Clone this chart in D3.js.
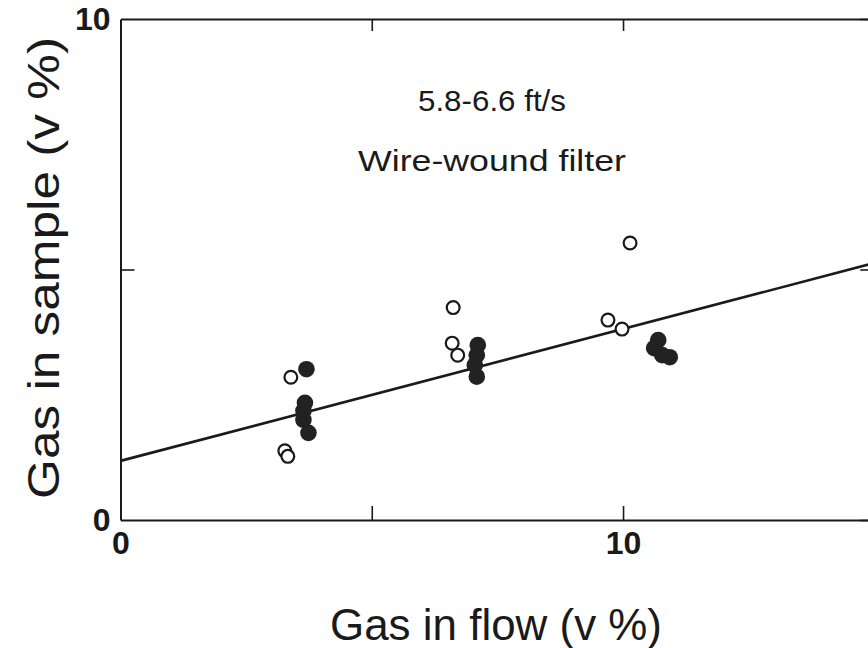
<!DOCTYPE html>
<html>
<head>
<meta charset="utf-8">
<script src="https://cdn.jsdelivr.net/npm/d3@7"></script>
<style>
  body { margin: 0; background: #fff; }
  text { font-family: "Liberation Sans", Arial, sans-serif; fill: #1a1a1a; }
</style>
</head>
<body>
<div id="chart"></div>
<script>
// open circles (one set of samples)
let openX = [3.39, 3.27, 3.33, 6.62, 6.60, 6.71, 9.70, 9.98, 10.14];
let openY = [2.85, 1.38, 1.27, 4.24, 3.53, 3.29, 3.99, 3.81, 5.53];
// filled circles
let filledX = [3.70, 3.67, 3.64, 3.64, 3.74, 7.11, 7.09, 7.05, 7.09, 10.70, 10.62, 10.78, 10.93];
let filledY = [3.01, 2.34, 2.18, 2.00, 1.74, 3.49, 3.29, 3.09, 2.86, 3.59, 3.43, 3.29, 3.25];
// fitted line end points
let fitX = [0, 15];
let fitY = [1.18, 5.13];

let xTicks = [0, 5, 10, 15];
let yTicks = [0, 5, 10];
let xLabelled = [0, 10];
let yLabelled = [0, 10];

let width = 868;
let height = 648;

let x = d3.scaleLinear().domain([0, 15]).range([120.5, 874.3]);
let y = d3.scaleLinear().domain([0, 10]).range([520, 19]);

let svg = d3
  .select("#chart")
  .append("svg")
  .attr("width", width)
  .attr("height", height);

let fmt = d => (xLabelled.includes(d) ? d : "");

// bottom axis, ticks pointing in
let bottomAxis = svg
  .append("g")
  .attr("transform", `translate(0,${y(0)})`)
  .call(d3.axisBottom(x).tickValues(xTicks).tickSizeInner(-14).tickSizeOuter(0).tickPadding(11).tickFormat(fmt));

// top axis
let topAxis = svg
  .append("g")
  .attr("transform", `translate(0,${y(10)})`)
  .call(d3.axisTop(x).tickValues(xTicks).tickSizeInner(-12).tickSizeOuter(0).tickFormat(""));

// left axis
let leftAxis = svg
  .append("g")
  .attr("transform", `translate(${x(0)},0)`)
  .call(d3.axisLeft(y).tickValues(yTicks).tickSizeInner(-14).tickSizeOuter(0).tickPadding(10)
    .tickFormat(d => (yLabelled.includes(d) ? d : "")));

// right axis
let rightAxis = svg
  .append("g")
  .attr("transform", `translate(${x(15)},0)`)
  .call(d3.axisRight(y).tickValues(yTicks).tickSizeInner(-14).tickSizeOuter(0).tickFormat(""));

svg.selectAll(".domain").attr("stroke", "#1a1a1a").attr("stroke-width", 2);
svg.selectAll(".tick line").attr("stroke", "#1a1a1a").attr("stroke-width", 1.6);
svg.selectAll(".tick text")
  .attr("fill", "#1a1a1a")
  .style("font-size", "32px")
  .style("font-weight", "bold")
  .style("font-family", "'Liberation Sans', Arial, sans-serif");

// no tick marks on the frame corners
bottomAxis.selectAll(".tick").filter(d => d === 0).select("line").remove();
leftAxis.selectAll(".tick").filter(d => d === 0 || d === 10).select("line").remove();
topAxis.selectAll(".tick").filter(d => d === 0).select("line").remove();

// fitted line
svg
  .append("line")
  .attr("x1", x(fitX[0]))
  .attr("y1", y(fitY[0]))
  .attr("x2", x(fitX[1]))
  .attr("y2", y(fitY[1]))
  .attr("stroke", "#1a1a1a")
  .attr("stroke-width", 2.6);

// filled circles
svg
  .selectAll("circle.filled")
  .data(filledX.map((d, i) => [d, filledY[i]]))
  .join("circle")
  .attr("class", "filled")
  .attr("cx", d => x(d[0]))
  .attr("cy", d => y(d[1]))
  .attr("r", 8.3)
  .attr("fill", "#222");

// open circles
svg
  .selectAll("circle.open")
  .data(openX.map((d, i) => [d, openY[i]]))
  .join("circle")
  .attr("class", "open")
  .attr("cx", d => x(d[0]))
  .attr("cy", d => y(d[1]))
  .attr("r", 6.4)
  .attr("fill", "#fff")
  .attr("stroke", "#1a1a1a")
  .attr("stroke-width", 2.2);

// annotations
svg
  .append("text")
  .attr("x", 492)
  .attr("y", 111)
  .attr("text-anchor", "middle")
  .attr("font-size", "30px")
  .attr("textLength", 148)
  .attr("lengthAdjust", "spacingAndGlyphs")
  .text("5.8-6.6 ft/s");

svg
  .append("text")
  .attr("x", 492)
  .attr("y", 171)
  .attr("text-anchor", "middle")
  .attr("font-size", "30px")
  .attr("textLength", 268)
  .attr("lengthAdjust", "spacingAndGlyphs")
  .text("Wire-wound filter");

// axis titles
svg
  .append("text")
  .attr("x", 496)
  .attr("y", 640)
  .attr("text-anchor", "middle")
  .attr("font-size", "44px")
  .attr("textLength", 332)
  .attr("lengthAdjust", "spacingAndGlyphs")
  .text("Gas in flow (v %)");

svg
  .append("text")
  .attr("transform", `translate(59,268) rotate(-90)`)
  .attr("text-anchor", "middle")
  .attr("font-size", "44px")
  .attr("textLength", 462)
  .attr("lengthAdjust", "spacingAndGlyphs")
  .text("Gas in sample (v %)");
</script>
</body>
</html>
